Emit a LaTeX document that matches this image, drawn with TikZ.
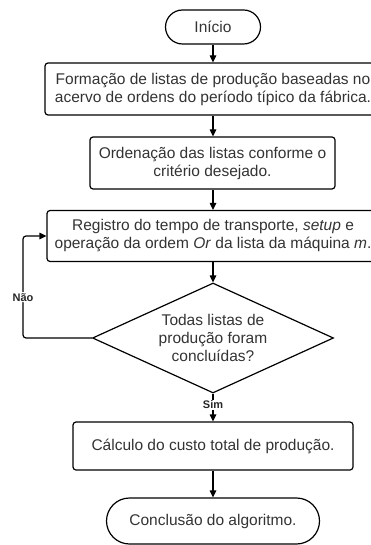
\documentclass[tikz,border=0pt]{standalone}
\usepackage{fontspec}
\setmainfont{Liberation Sans}
\usetikzlibrary{arrows.meta,shapes.geometric}

\begin{document}
\begin{tikzpicture}[x=1pt,y=-1pt]
    \useasboundingbox (0,0) rectangle (370,545);

    \tikzstyle{every node}=[draw=black, line width=1.2pt, text=black!80, font=\fontsize{15.5}{18}\selectfont, align=center, inner sep=0pt]
    \tikzstyle{etapa}=[rectangle, rounded corners=3pt]
    \tikzstyle{seta}=[black, line width=1.2pt, -{Triangle[length=7pt,width=6.5pt]}]
    \tikzstyle{rotulo}=[draw=none, fill=white, text=black!85, font=\fontsize{11}{13}\selectfont\bfseries, inner sep=1pt]

    \node[etapa, rounded corners=17pt, minimum width=95, minimum height=34] (inicio) at (213,27) {Início};
    \node[etapa, minimum width=336, minimum height=52] (formacao) at (213,89) {Formação de listas de produção baseadas no\\acervo de ordens do período típico da fábrica.};
    \node[etapa, minimum width=245, minimum height=52] (ordenacao) at (212.5,163) {Ordenação das listas conforme o\\critério desejado.};
    \node[etapa, minimum width=332, minimum height=51] (registro) at (213,236) {Registro do tempo de transporte, \textit{setup} e\\operação da ordem \textit{Or} da lista da máquina \textit{m}.};
    \node[diamond, shape aspect=2.2, minimum width=241, minimum height=110] (decisao) at (213,338) {Todas listas de\\produção foram\\concluídas?};
    \node[etapa, minimum width=280, minimum height=48] (calculo) at (213,446) {Cálculo do custo total de produção.};
    \node[etapa, rounded corners=23pt, minimum width=213, minimum height=46] (fim) at (213,521) {Conclusão do algoritmo.};

    \coordinate (canto) at (23,338);

    \draw[seta] (inicio) -- (formacao);
    \draw[seta] (formacao) -- (ordenacao.north -| formacao);
    \draw[seta] (ordenacao.south -| registro) -- (registro);
    \draw[seta] (registro) -- (decisao);
    \draw[seta] (decisao) -- (calculo) node[rotulo, pos=0.4] {Sim};
    \draw[seta] (calculo) -- (fim);
    \draw[seta, rounded corners=3pt] (decisao.west) -- (canto) |- (registro.west) node[rotulo, pos=0.2] {Não};
\end{tikzpicture}
\end{document}
